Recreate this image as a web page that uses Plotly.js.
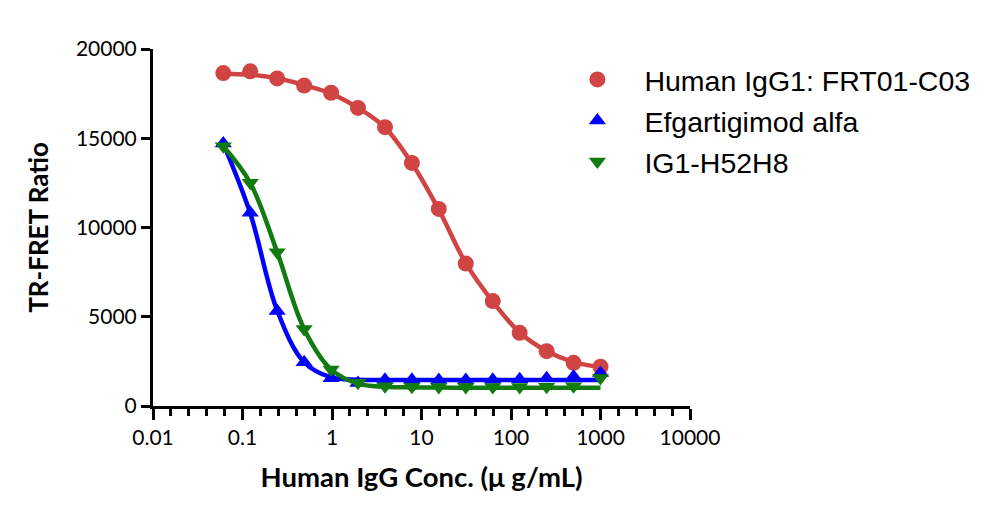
<!DOCTYPE html>
<html>
<head>
<meta charset="utf-8">
<script src="https://cdn.plot.ly/plotly-3.0.1.min.js"></script>
<style>html,body{margin:0;padding:0;background:#fff;}#chart{width:1000px;height:518px;}</style>
</head>
<body>
<div id="chart"></div>
<script>
// Concentrations (µg/mL), 2-fold serial dilution from 1000
const conc = [0.061, 0.122, 0.244, 0.488, 0.977, 1.95, 3.91, 7.81, 15.6, 31.25, 62.5, 125, 250, 500, 1000];

// Measured points
const fc03Pts = [18650, 18750, 18350, 17950, 17550, 16700, 15620, 13620, 11040, 7980, 5880, 4100, 3070, 2420, 2200];
const efgPts  = [14700, 10820, 5320, 2450, 1560, 1290, 1470, 1470, 1460, 1460, 1470, 1500, 1560, 1650, 1850];
const h52Pts  = [14550, 12500, 8620, 4320, 2040, 1300, 1100, 1080, 1070, 1070, 1070, 1070, 1080, 1100, 1570];

// Fitted curves at each concentration
const fc03Fit = [18620, 18560, 18360, 17980, 17500, 16700, 15600, 13600, 11000, 8000, 5850, 4120, 3080, 2460, 2180];
const efgFit  = [14700, 10800, 5350, 2450, 1600, 1470, 1455, 1455, 1455, 1455, 1455, 1455, 1455, 1455, 1455];
const h52Fit  = [14550, 12500, 8620, 4320, 2050, 1250, 1080, 1040, 1030, 1025, 1025, 1025, 1025, 1025, 1025];

const names = ["Human IgG1: FRT01-C03", "Efgartigimod alfa", "IG1-H52H8"];
const colors = ["#d04444", "#0000ff", "#117a11"];
const symbols = ["circle", "triangle-up", "triangle-down"];

const xTickVals = [0.01, 0.1, 1, 10, 100, 1000, 10000];
const xTickText = ["0.01", "0.1", "1", "10", "100", "1000", "10000"];
const yTickVals = [0, 5000, 10000, 15000, 20000];
const yTickText = ["0", "5000", "10000", "15000", "20000"];

// minor ticks: 4 evenly spaced (in log) between decades
const minorVals = [];
for (let d = -2; d < 4; d++) for (let k = 1; k < 5; k++) minorVals.push(Math.pow(10, d + k / 5));

const series = [[fc03Fit, fc03Pts], [efgFit, efgPts], [h52Fit, h52Pts]];
const traces = [];
series.forEach((s, i) => {
  traces.push({x: conc, y: s[0], mode: "lines", line: {color: colors[i], width: 4.5, shape: "spline", smoothing: 1}, showlegend: false, legendgroup: "g" + i, hoverinfo: "skip"});
  traces.push({x: conc, y: s[1], mode: "markers", name: names[i], legendgroup: "g" + i,
    marker: {color: colors[i], symbol: symbols[i], size: i === 0 ? 16 : 15, line: {width: 0}}});
});

const tickFont = {family: "Lato, 'Open Sans', sans-serif", size: 21, color: "#000"};
const layout = {
  width: 1000, height: 518,
  margin: {l: 153, r: 310, t: 49, b: 112},
  paper_bgcolor: "#fff", plot_bgcolor: "#fff",
  showlegend: true,
  legend: {
    x: 0.74, xanchor: "left", y: 0.985, yanchor: "top",
    font: {family: "'Liberation Sans', Arial, sans-serif", size: 28.5, color: "#000"},
    itemwidth: 84, traceorder: "grouped", tracegroupgap: 1, bgcolor: "rgba(0,0,0,0)"
  },
  xaxis: {
    type: "log", range: [-2, 4], showgrid: false, zeroline: false,
    showline: true, linecolor: "#000", linewidth: 3,
    tickmode: "array", tickvals: xTickVals, ticktext: xTickText,
    ticks: "outside", ticklen: 11, tickwidth: 3, tickcolor: "#000",
    minor: {tickmode: "array", tickvals: minorVals, ticks: "outside", ticklen: 7, tickwidth: 3, tickcolor: "#000", showgrid: false},
    tickfont: tickFont,
    title: {text: "Human IgG Conc. (μ g/mL)", font: {family: "Lato, 'Open Sans', sans-serif", size: 27.5, color: "#000", weight: "bold"}, standoff: 20}
  },
  yaxis: {
    range: [0, 20000], showgrid: false, zeroline: false,
    showline: true, linecolor: "#000", linewidth: 3,
    tickmode: "array", tickvals: yTickVals, ticktext: yTickText,
    ticks: "outside", ticklen: 9, tickwidth: 3, tickcolor: "#000",
    tickfont: tickFont,
    title: {text: "TR-FRET Ratio", font: {family: "Lato, 'Open Sans', sans-serif", size: 26, color: "#000", weight: "bold"}, standoff: 20}
  }
};

Plotly.newPlot("chart", traces, layout, {displayModeBar: false, staticPlot: true});
</script>
</body>
</html>
